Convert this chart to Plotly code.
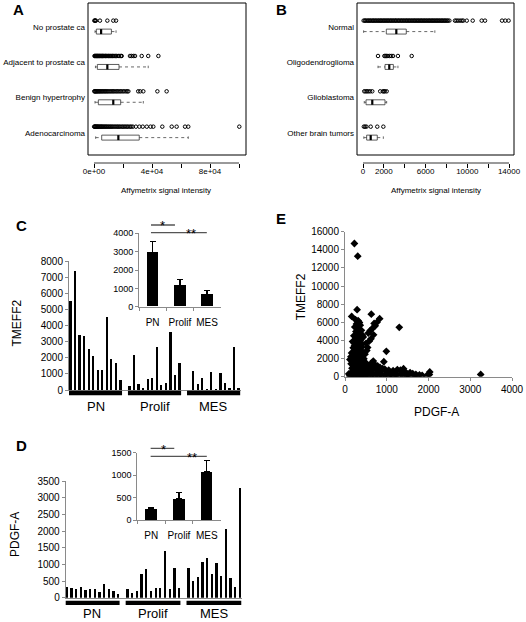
import plotly.graph_objects as go

W, H = 526, 622
FONT = "Liberation Sans, Arial, Helvetica, sans-serif"

# ---------------- Panel A: prostate datasets ----------------
a_categories = ["No prostate ca", "Adjacent to prostate ca", "Benign hypertrophy", "Adenocarcinoma"]
a_no_prostate = [250, 600, 950, 1300, 4100, 9200, 13300, 15200]
a_adjacent = [350, 700, 1000, 1450, 1750, 2200, 2600, 2850, 3300, 3750, 4100, 4600, 4950, 5400,
              5900, 6150, 6700, 7000, 7650, 8100, 8400, 9000, 9650, 10100, 10800, 11250, 11900,
              12700, 13200, 13900, 14800, 15500, 16600, 17300, 18500, 19100, 24800, 25900, 27100,
              28300, 32900, 37400, 44400]
a_benign = [200, 550, 900, 1350, 1700, 2250, 2650, 3250, 3800, 4350, 5050, 5650, 6300, 7050, 7700,
            8350, 9150, 9850, 10700, 11450, 12300, 13150, 13950, 14900, 15750, 16700, 17650, 18550,
            19650, 20650, 21850, 22900, 23700, 30500, 31900, 34000, 43700, 50100]
a_adeno = [100, 450, 700, 1050, 1400, 1850, 2150, 2650, 3000, 3550, 3950, 4550, 5000, 5450, 6050,
           6550, 7250, 7750, 8450, 8950, 9750, 10350, 11150, 11750, 12550, 13250, 14150, 14850,
           15750, 16450, 17350, 18150, 19150, 19950, 20950, 21750, 22750, 23650, 24750, 25650,
           26750, 28900, 31300, 33600, 36400, 39000, 40900,
           47100, 53600, 57000, 62800, 65000, 100200]
a_box_low = [690, 1000, 690, 1150]
a_box_q1 = [1600, 2300, 3000, 5300]
a_box_median = [4900, 9200, 13300, 16800]
a_box_q3 = [12000, 17250, 18400, 31200]
a_box_high = [15200, 37400, 34000, 65000]
a_tick_values = [0, 20000, 40000, 60000, 80000, 100000]
a_tick_labels = ["0e+00", "", "4e+04", "", "8e+04", ""]

# ---------------- Panel B: brain datasets ----------------
b_categories = ["Normal", "Oligodendroglioma", "Glioblastoma", "Other brain tumors"]
b_normal = [60, 170, 240, 350, 470, 540, 660, 730, 850, 960, 1020, 1140, 1230, 1320, 1450, 1510,
            1630, 1720, 1790, 1910, 2000, 2080, 2190, 2270, 2380, 2450, 2560, 2660, 2730, 2850,
            2920, 3040, 3120, 3190, 3310, 3400, 3470, 3590, 3680, 3760, 3880, 3950, 4070, 4160,
            4230, 4350, 4430, 4520, 4640, 4710, 4830, 4920, 4990, 5110, 5190, 5300, 5370, 5490,
            5580, 5650, 5770, 5860, 5940, 6060, 6130, 6250, 6340, 6410, 6530, 6620, 6700, 6810,
            6890, 7000, 7090, 7170, 7290, 7360, 7480, 7570, 7640, 7760, 7850, 7930, 8050, 8140,
            8280, 8820, 8960, 9120, 9310, 9480, 9620, 9950, 10520, 11380, 11700, 13330, 13640, 13960]
b_oligo = [1440, 2050, 2160, 2250, 2390, 2560, 2700, 2880, 3350, 4670]
b_glio = [120, 250, 380, 520, 680, 890, 1650, 1900, 2000, 2100, 2270]
b_other = [80, 200, 330, 740, 1370, 1950]
b_box_low = [60, 1440, 120, 80]
b_box_q1 = [2235, 2110, 290, 350]
b_box_median = [3195, 2520, 890, 740]
b_box_q3 = [4150, 2910, 2110, 1370]
b_box_high = [6890, 3350, 2270, 1950]
b_tick_values = [0, 2000, 4000, 6000, 8000, 10000, 12000, 14000]
b_tick_labels = ["0", "2000", "", "6000", "", "10000", "", "14000"]

# ---------------- Panel C: TMEFF2 per sample ----------------
subtypes = ["PN", "Prolif", "MES"]
c_pn = [5550, 7400, 3400, 3380, 2550, 2100, 1250, 1250, 4550, 1900, 1680, 600]
c_prolif = [250, 2150, 380, 100, 700, 740, 2650, 280, 450, 3620, 920, 1700]
c_mes = [0, 1180, 380, 720, 30, 1120, 20, 1080, 430, 80, 2650, 150]
c_inset_means = [2950, 1170, 660]
c_inset_errors = [600, 320, 240]

# ---------------- Panel D: PDGF-A per sample ----------------
d_pn = [330, 280, 250, 310, 220, 260, 260, 180, 400, 250, 200, 120]
d_prolif = [250, 130, 210, 720, 860, 210, 290, 300, 1400, 270, 890, 300]
d_mes = [880, 500, 620, 1070, 1200, 710, 1040, 650, 2050, 600, 330, 3300]
d_inset_means = [250, 490, 1070]
d_inset_errors = [40, 130, 250]

# ---------------- Panel E: PDGF-A vs TMEFF2 ----------------
e_pdgfa = [225, 305, 290, 160, 630, 830, 1300, 990, 930, 3250, 2030, 2020,
           250, 315, 345, 275, 365, 235, 322, 392, 262, 298, 352, 418, 212, 284, 333, 377, 243, 437,
           503, 558, 604, 622, 655, 698, 724, 768, 541, 579, 683,
           182, 218, 268, 313, 348, 402, 197, 252, 303, 328, 384, 428, 158, 213, 257, 292, 338, 393,
           452, 478, 521, 228, 283, 142, 188, 362, 408, 238,
           118, 172, 219, 263, 308, 357, 413, 462, 517, 583, 628, 677, 722, 781, 838, 148, 203, 248,
           297, 352, 398, 447, 502, 553, 597, 652, 703, 748, 797, 862, 898, 953, 1004, 1047, 1103,
           1152, 1198, 1254, 1328, 1402, 1447, 1503, 1558, 1622, 1698, 1783, 168, 232, 278, 333,
           378, 432, 483, 538,
           92, 113, 138, 162, 191, 218, 253, 279, 312, 338, 371, 399, 428, 463, 488, 523, 558, 602,
           638, 683, 718, 762, 798, 843, 878, 922, 958, 1002, 1043, 1078, 1122, 1168, 1232, 1278,
           1352, 1418, 1482, 1528, 1652, 1718, 1848, 1952,
           176, 207, 233, 268, 294, 327, 353, 386, 414, 184, 216, 244, 277, 306, 334, 367, 396, 423,
           457, 486]
e_tmeff2 = [14700, 13300, 7400, 6650, 6900, 6400, 5450, 2800, 1650, 250, 520, 230,
            6300, 6180, 5980, 5820, 5690, 5480, 5310, 5120, 4980, 4790, 4720, 4590, 4510, 4280,
            4230, 4090, 3990, 4380,
            3680, 4810, 5090, 4180, 5320, 5880, 5610, 6020, 3220, 3920, 4620,
            3880, 3720, 3590, 3470, 3420, 3280, 3190, 3130, 2980, 2910, 2790, 2710, 2620, 2480,
            2390, 2320, 2180, 2120, 1980, 2490, 2880, 3420, 2680, 2210, 2030, 3790, 3610, 2790,
            1890, 1810, 1690, 1610, 1490, 1420, 1290, 1260, 1190, 1110, 1480, 1720, 1310, 1190,
            1020, 1420, 1210, 1090, 1010, 890, 810, 990, 1520, 790, 690, 910, 1010, 780, 710, 590,
            880, 820, 590, 710, 480, 660, 390, 790, 710, 880, 510, 290, 460, 340, 260, 190, 920,
            690, 610, 720, 490, 610, 690, 510,
            310, 90, 420, 160, 260, 40, 360, 110, 240, 70, 310, 150, 50, 260, 100, 310, 140, 60,
            210, 300, 90, 250, 80, 310, 140, 50, 210, 290, 110, 240, 160, 50, 190, 110, 260, 120,
            60, 170, 100, 40, 150, 80,
            1720, 1530, 2050, 1810, 2610, 1920, 2350, 1650, 2040, 560, 880, 470, 1350, 720, 1180,
            1040, 1160, 380, 640, 1180]


def fx(p):
    return p / W


def fy(p):
    return 1 - p / H


def dom_x(a, b):
    return [a / W, b / W]


def dom_y(top, bottom):
    return [1 - bottom / H, 1 - top / H]


fig = go.Figure()

STRIP_OFF = -0.18
BOX_OFF = 0.13
BOX_H = 0.07


def add_strip_panel(series, lows, q1s, meds, q3s, highs, xa, ya):
    for i, vals in enumerate(series):
        fig.add_trace(go.Scatter(
            x=vals, y=[i + 1 + STRIP_OFF] * len(vals), mode="markers",
            marker=dict(symbol="circle-open", size=3.5, color="black", line=dict(width=1, color="black")),
            xaxis=xa, yaxis=ya, hoverinfo="skip"))
    bx, by, mx, my, wx, wy, sx, sy = [], [], [], [], [], [], [], []
    for i in range(len(series)):
        c = i + 1 + BOX_OFF
        bx += [q1s[i], q3s[i], q3s[i], q1s[i], q1s[i], None]
        by += [c - BOX_H, c - BOX_H, c + BOX_H, c + BOX_H, c - BOX_H, None]
        mx += [meds[i], meds[i], None]
        my += [c - BOX_H, c + BOX_H, None]
        wx += [lows[i], q1s[i], None, q3s[i], highs[i], None]
        wy += [c, c, None, c, c, None]
        sx += [lows[i], lows[i], None, highs[i], highs[i], None]
        sy += [c - BOX_H / 2, c + BOX_H / 2, None, c - BOX_H / 2, c + BOX_H / 2, None]
    fig.add_trace(go.Scatter(x=wx, y=wy, mode="lines", line=dict(color="#444", width=0.8, dash="3px,3px"),
                             xaxis=xa, yaxis=ya, hoverinfo="skip"))
    fig.add_trace(go.Scatter(x=sx, y=sy, mode="lines", line=dict(color="#444", width=0.8),
                             xaxis=xa, yaxis=ya, hoverinfo="skip"))
    fig.add_trace(go.Scatter(x=bx, y=by, mode="lines", line=dict(color="#333", width=0.8),
                             xaxis=xa, yaxis=ya, hoverinfo="skip"))
    fig.add_trace(go.Scatter(x=mx, y=my, mode="lines", line=dict(color="black", width=2.2),
                             xaxis=xa, yaxis=ya, hoverinfo="skip"))


add_strip_panel([a_no_prostate, a_adjacent, a_benign, a_adeno],
                a_box_low, a_box_q1, a_box_median, a_box_q3, a_box_high, "x", "y")
add_strip_panel([b_normal, b_oligo, b_glio, b_other],
                b_box_low, b_box_q1, b_box_median, b_box_q3, b_box_high, "x2", "y2")

GROUP_STRIDE = 13


def add_sample_bars(groups, xa, ya):
    xs, ys = [], []
    for g, vals in enumerate(groups):
        for i, v in enumerate(vals):
            xs.append(g * GROUP_STRIDE + i)
            ys.append(v)
    fig.add_trace(go.Bar(x=xs, y=ys, width=0.38, marker=dict(color="black", line=dict(width=0)),
                         xaxis=xa, yaxis=ya, hoverinfo="skip"))


def add_inset(means, errs, xa, ya):
    fig.add_trace(go.Bar(
        x=subtypes, y=means, width=0.43, marker=dict(color="black", line=dict(width=0)),
        error_y=dict(type="data", array=errs, arrayminus=[0] * len(errs), symmetric=False,
                     color="black", thickness=1.3, width=3),
        xaxis=xa, yaxis=ya, hoverinfo="skip"))


add_sample_bars([c_pn, c_prolif, c_mes], "x3", "y3")
add_inset(c_inset_means, c_inset_errors, "x4", "y4")
add_sample_bars([d_pn, d_prolif, d_mes], "x5", "y5")
add_inset(d_inset_means, d_inset_errors, "x6", "y6")

fig.add_trace(go.Scatter(x=e_pdgfa, y=e_tmeff2, mode="markers",
                         marker=dict(symbol="diamond", size=6, color="black", line=dict(width=0)),
                         xaxis="x7", yaxis="y7", hoverinfo="skip"))

# ---------------- axes ----------------
r_x = dict(showgrid=False, zeroline=False, showline=False, ticks="outside", ticklen=4, tickwidth=0.8,
           tickcolor="black", tickfont=dict(size=8, color="black"), anchor="free", automargin=False,
           tickangle=0, ticklabelstandoff=-4)
r_y = dict(showgrid=False, zeroline=False, showline=False, ticks="", tickfont=dict(size=8, color="black"),
           range=[4.622, 0.321], tickvals=[1, 2, 3, 4], anchor="free", automargin=False,
           ticklabelstandoff=3)

excel_axis = dict(showgrid=False, zeroline=False, showline=True, linecolor="#8a8a8a", linewidth=1,
                  ticks="outside", ticklen=3, tickcolor="#8a8a8a", tickwidth=1,
                  tickfont=dict(size=10, color="black"), automargin=False, tickangle=0,
                  tickformat="d")

layout = dict(
    template="none",
    width=W, height=H, margin=dict(l=0, r=0, t=0, b=0, pad=0), autosize=False,
    paper_bgcolor="white", plot_bgcolor="rgba(0,0,0,0)",
    font=dict(family=FONT, color="black"), showlegend=False, bargap=0,
    xaxis=dict(r_x, domain=dom_x(88, 246), range=[-4138, 104828], position=fy(163),
               tickvals=a_tick_values, ticktext=a_tick_labels),
    yaxis=dict(r_y, domain=dom_y(3, 155), position=fx(88), ticktext=a_categories),
    xaxis2=dict(r_x, domain=dom_x(357, 514), range=[-575, 14479], position=fy(163),
                tickvals=b_tick_values, ticktext=b_tick_labels),
    yaxis2=dict(r_y, domain=dom_y(3, 155), position=fx(357), ticktext=b_categories),
    xaxis3=dict(excel_axis, domain=dom_x(69, 241), range=[-0.374, 37.48], anchor="y3",
                ticks="", showticklabels=False),
    yaxis3=dict(excel_axis, domain=dom_y(261, 390), range=[0, 8000], dtick=1000, anchor="x3"),
    xaxis4=dict(excel_axis, domain=dom_x(139, 220.7), type="category", anchor="y4",
                tickson="boundaries", ticklabelstandoff=6, tickformat=""),
    yaxis4=dict(excel_axis, domain=dom_y(233.3, 306.7), range=[0, 4000], dtick=1000, anchor="x4",
                tickfont=dict(size=9, color="black")),
    xaxis5=dict(excel_axis, domain=dom_x(65.7, 242.2), range=[-0.214, 37.5], anchor="y5",
                ticks="", showticklabels=False),
    yaxis5=dict(excel_axis, domain=dom_y(481, 597.7), range=[0, 3500], dtick=500, anchor="x5"),
    xaxis6=dict(excel_axis, domain=dom_x(137.3, 220.7), type="category", anchor="y6",
                tickson="boundaries", ticklabelstandoff=6, tickformat=""),
    yaxis6=dict(excel_axis, domain=dom_y(452.7, 520.3), range=[0, 1500], dtick=500, anchor="x6",
                tickfont=dict(size=9, color="black")),
    xaxis7=dict(excel_axis, domain=dom_x(345, 512), range=[0, 4000], dtick=1000, anchor="y7"),
    yaxis7=dict(excel_axis, domain=dom_y(231.7, 376.7), range=[0, 16000], dtick=2000, anchor="x7"),
)
fig.update_layout(**layout)

shapes = []
annotations = []


def note(text, x, y, size, xref="paper", angle=0):
    annotations.append(dict(text=text, x=x, y=y, xref=xref, yref="paper", showarrow=False,
                            xanchor="center", yanchor="middle", textangle=angle,
                            font=dict(size=size), borderpad=0))


# R-style frames and axis lines
for xa, ya, ticks in (("x", "y", a_tick_values), ("x2", "y2", b_tick_values)):
    shapes.append(dict(type="rect", xref=xa + " domain", yref=ya + " domain", x0=0, x1=1, y0=0, y1=1,
                       line=dict(color="black", width=1)))
    shapes.append(dict(type="line", xref=xa, yref="paper", x0=ticks[0], x1=ticks[-1],
                       y0=fy(163), y1=fy(163), line=dict(color="black", width=0.8)))
for xc in (166, 436):
    note("Affymetrix signal intensity", fx(xc), fy(190), 8)

# group indicator bars and labels
for xa, y_top, y_bot, y_lab in (("x3", 390.7, 395.3, 406), ("x5", 600.7, 605, 613.5)):
    for g, name in enumerate(subtypes):
        n = 12
        start = g * GROUP_STRIDE
        shapes.append(dict(type="rect", xref=xa, yref="paper", x0=start - 0.4, x1=start + n - 1 + 0.3,
                           y0=fy(y_bot), y1=fy(y_top), fillcolor="black", line=dict(width=0)))
        note(name, start + (n - 1) / 2, fy(y_lab), 13, xref=xa)

# significance brackets on insets
for xa, lines, stars in (
        ("x4", [(-0.06, 0.82, 225), (-0.06, 1.99, 232.7)], [("*", 0.38, 225), ("**", 1.40, 232.7)]),
        ("x6", [(-0.02, 0.83, 448.3), (-0.02, 2.0, 456.3)], [("*", 0.435, 448.3), ("**", 1.46, 456.3)])):
    for x0, x1, yy in lines:
        shapes.append(dict(type="line", xref=xa, yref="paper", x0=x0, x1=x1, y0=fy(yy), y1=fy(yy),
                           line=dict(color="#555", width=1.3)))
    for s, xs, yy in stars:
        note(s, xs, fy(yy + 1), 13, xref=xa)

# axis titles
note("TMEFF2", fx(16.5), fy(323), 12, angle=-90)
note("PDGF-A", fx(15), fy(535), 12, angle=-90)
note("TMEFF2", fx(301.3), fy(297), 12, angle=-90)
note("PDGF-A", fx(436), fy(412), 12)

# panel letters
for letter, px, py in (("A", 18, 10), ("B", 281.5, 10), ("C", 21, 225), ("D", 21, 445.5), ("E", 280.5, 219)):
    note("<b>" + letter + "</b>", fx(px), fy(py), 15)

fig.update_layout(shapes=shapes, annotations=annotations)
fig.write_html("out.html", config={"displayModeBar": False},
               post_script="document.body.style.margin='0px';document.body.style.overflow='hidden';")
